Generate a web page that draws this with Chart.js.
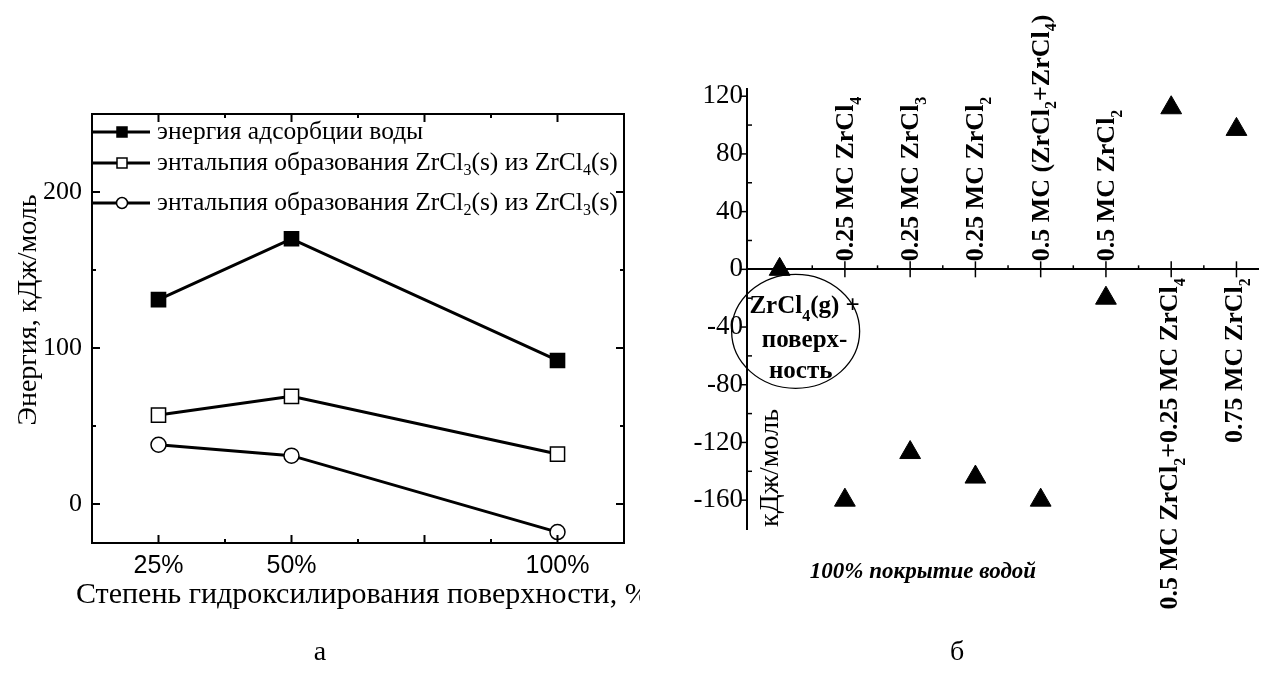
<!DOCTYPE html>
<html>
<head>
<meta charset="utf-8">
<script src="https://cdn.jsdelivr.net/npm/chart.js@4.4.0/dist/chart.umd.min.js"></script>
<style>
  html, body { margin: 0; padding: 0; background: #fff; width: 1271px; height: 677px; overflow: hidden; }
  canvas { position: absolute; top: 0; }
  #leftChart { left: 0; }
  #rightChart { left: 640px; }
</style>
</head>
<body>
<canvas id="leftChart" width="640" height="677"></canvas>
<canvas id="rightChart" width="631" height="677"></canvas>
<script>
// ---- panel а: energies vs hydroxylation degree ----
const coverage = [25, 50, 100];
const coverageTicks = [25, 50, 75, 100];
const coverageLabelled = [25, 50, 100];
const adsorptionEnergy = [131, 170, 92];
const enthalpyZrCl3 = [57, 69, 32];
const enthalpyZrCl2 = [38, 31, -18];
const seriesNames = [
    'энергия адсорбции воды',
    'энтальпия образования ZrCl_3(s) из ZrCl_4(s)',
    'энтальпия образования ZrCl_2(s) из ZrCl_3(s)'
];

// ---- panel б: reaction energies at 100% water coverage ----
const stateIdx = [0, 1, 2, 3, 4, 5, 6, 7];
const stateLabels = [
    '',
    '0.25 МС ZrCl_4',
    '0.25 МС ZrCl_3',
    '0.25 МС ZrCl_2',
    '0.5 МС (ZrCl_2+ZrCl_4)',
    '0.5 МС ZrCl_2',
    '0.5 МС ZrCl_2+0.25 МС ZrCl_4',
    '0.75 МС ZrCl_2'
];
const stateEnergy = [0, -160, -127, -144, -160, -20, 112, 97];
const startLabel = ['ZrCl_4(g) +', 'поверх-', 'ность'];

const SERIF = '"Liberation Serif", "Times New Roman", serif';

function splitSub(str) {
    const out = [];
    const re = /_(\d)/g;
    let last = 0, m;
    while ((m = re.exec(str))) {
        if (m.index > last) out.push([str.slice(last, m.index), false]);
        out.push([m[1], true]);
        last = re.lastIndex;
    }
    if (last < str.length) out.push([str.slice(last), false]);
    return out;
}

function drawRich(ctx, str, x, y, size, style, align) {
    const segs = splitSub(str);
    const main = `${style} ${size}px ${SERIF}`;
    const sub = `${style} ${Math.round(size * 0.62)}px ${SERIF}`;
    let w = 0;
    segs.forEach(([t, s]) => { ctx.font = s ? sub : main; w += ctx.measureText(t).width; });
    let cx = align === 'center' ? x - w / 2 : align === 'right' ? x - w : x;
    ctx.textAlign = 'left';
    segs.forEach(([t, s]) => {
        ctx.font = s ? sub : main;
        ctx.fillText(t, cx, s ? y + size * 0.3 : y);
        cx += ctx.measureText(t).width;
    });
}

function line(ctx, x1, y1, x2, y2) {
    ctx.beginPath(); ctx.moveTo(x1, y1); ctx.lineTo(x2, y2); ctx.stroke();
}

function vText(ctx, text, x, y, font, align) {
    ctx.save();
    ctx.translate(x, y);
    ctx.rotate(-Math.PI / 2);
    ctx.font = font;
    ctx.textAlign = align;
    ctx.fillText(text, 0, 0);
    ctx.restore();
}

const leftDecor = {
    id: 'leftDecor',
    afterDraw(chart) {
        const ctx = chart.ctx, a = chart.chartArea;
        const xs = chart.scales.x, ys = chart.scales.y;
        ctx.save();
        ctx.strokeStyle = '#000';
        ctx.fillStyle = '#000';
        ctx.lineWidth = 2;
        ctx.strokeRect(a.left, a.top, a.right - a.left, a.bottom - a.top);

        // inward ticks on all four sides
        xs.ticks.forEach(t => {
            const px = xs.getPixelForValue(t.value);
            line(ctx, px, a.bottom, px, a.bottom - 8);
            line(ctx, px, a.top, px, a.top + 8);
            const mx = xs.getPixelForValue(t.value + 12.5);
            if (mx < a.right - 2) {
                line(ctx, mx, a.bottom, mx, a.bottom - 4);
                line(ctx, mx, a.top, mx, a.top + 4);
            }
        });
        ys.ticks.forEach(t => {
            const py = ys.getPixelForValue(t.value);
            line(ctx, a.left, py, a.left + 8, py);
            line(ctx, a.right, py, a.right - 8, py);
            const my = ys.getPixelForValue(t.value + 50);
            if (my > a.top + 2) {
                line(ctx, a.left, my, a.left + 4, my);
                line(ctx, a.right, my, a.right - 4, my);
            }
        });

        // legend
        const rows = [132, 163, 203];
        chart.data.datasets.forEach((ds, i) => {
            const y = rows[i];
            ctx.lineWidth = 3;
            line(ctx, a.left, y, a.left + 58, y);
            ctx.lineWidth = 1.5;
            ctx.fillStyle = ds.pointBackgroundColor;
            ctx.beginPath();
            if (ds.pointStyle === 'circle') ctx.arc(a.left + 30, y, 5.5, 0, Math.PI * 2);
            else ctx.rect(a.left + 25, y - 5, 10, 10);
            ctx.fill(); ctx.stroke();
            ctx.fillStyle = '#000';
            ctx.textBaseline = 'middle';
            drawRich(ctx, seriesNames[i], a.left + 65, y, 25.5, 'normal', 'left');
        });

        // axis titles and panel letter
        ctx.textBaseline = 'alphabetic';
        vText(ctx, 'Энергия, кДж/моль', 36, 310, `28px ${SERIF}`, 'center');

        ctx.font = `30px ${SERIF}`;
        ctx.textAlign = 'left';
        ctx.fillText('Степень гидроксилирования поверхности, %', 76, 603);
        ctx.textAlign = 'center';
        ctx.font = `28px ${SERIF}`;
        ctx.fillText('а', 320, 660);
        ctx.restore();
    }
};

const rightDecor = {
    id: 'rightDecor',
    afterDraw(chart) {
        const ctx = chart.ctx, a = chart.chartArea;
        const xs = chart.scales.x, ys = chart.scales.y;
        const y0 = ys.getPixelForValue(0);
        ctx.save();
        ctx.strokeStyle = '#000';
        ctx.fillStyle = '#000';
        ctx.lineWidth = 1.5;

        // x ticks crossing the zero line
        stateIdx.forEach(i => {
            const px = xs.getPixelForValue(i);
            if (i > 0) line(ctx, px, y0 - 8, px, y0 + 8);
            const mx = xs.getPixelForValue(i + 0.5);
            if (mx < a.right) line(ctx, mx, y0 - 4, mx, y0);
        });
        // y ticks
        ys.ticks.forEach(t => {
            const py = ys.getPixelForValue(t.value);
            line(ctx, a.left - 7, py, a.left, py);
            const my = ys.getPixelForValue(t.value + 20);
            if (my > a.top) line(ctx, a.left, my, a.left + 5, my);
        });

        // state labels, on the opposite side of the zero line from the point
        ctx.textBaseline = 'alphabetic';
        stateIdx.forEach(i => {
            if (!stateLabels[i]) return;
            const px = xs.getPixelForValue(i);
            ctx.save();
            if (stateEnergy[i] < 0) {
                ctx.translate(px + 8, y0 - 8);
                ctx.rotate(-Math.PI / 2);
                drawRich(ctx, stateLabels[i], 0, 0, 26, 'bold', 'left');
            } else {
                ctx.translate(px + 6, y0 + 9);
                ctx.rotate(-Math.PI / 2);
                drawRich(ctx, stateLabels[i], 0, 0, 26, 'bold', 'right');
            }
            ctx.restore();
        });

        // starting state: ZrCl4(g) + surface, circled
        const sx = xs.getPixelForValue(0);
        ctx.lineWidth = 1.3;
        ctx.beginPath();
        ctx.ellipse(sx + 16, y0 + 62, 64, 57, 0, 0, Math.PI * 2);
        ctx.stroke();
        drawRich(ctx, startLabel[0], sx + 25, y0 + 44, 25, 'bold', 'center');
        drawRich(ctx, startLabel[1], sx + 25, y0 + 78, 25, 'bold', 'center');
        drawRich(ctx, startLabel[2], sx + 21, y0 + 109, 25, 'bold', 'center');

        // y title (only its unit part is visible in the original)
        vText(ctx, 'кДж/моль', a.left + 31, a.bottom - 2, `28px ${SERIF}`, 'left');

        ctx.textAlign = 'center';
        ctx.font = `italic bold 23px ${SERIF}`;
        ctx.fillText('100% покрытие водой', 283, 578);
        ctx.font = `28px ${SERIF}`;
        ctx.fillText('б', 317, 660);
        ctx.restore();
    }
};

const ptsOf = vals => coverage.map((x, i) => ({ x, y: vals[i] }));
const lineSeries = (vals, style, fill, r) => ({
    data: ptsOf(vals),
    showLine: true,
    borderColor: '#000',
    borderWidth: 3,
    pointStyle: style,
    pointRadius: r,
    pointBackgroundColor: fill,
    pointBorderColor: '#000',
    pointBorderWidth: 1.5,
    tension: 0
});

new Chart(document.getElementById('leftChart'), {
    type: 'scatter',
    data: {
        datasets: [
            lineSeries(adsorptionEnergy, 'rect', '#000', 10),
            lineSeries(enthalpyZrCl3, 'rect', '#fff', 10),
            lineSeries(enthalpyZrCl2, 'circle', '#fff', 7.5)
        ]
    },
    options: {
        responsive: false, animation: false, devicePixelRatio: 1,
        layout: { padding: { top: 114, right: 16, left: 0, bottom: 0 } },
        plugins: { legend: { display: false }, tooltip: { enabled: false } },
        clip: false,
        scales: {
            x: {
                type: 'linear', min: 12.5, max: 112.5,
                grid: { display: false, tickLength: 0 }, border: { display: false },
                ticks: {
                    padding: 8, color: '#000', autoSkip: false, maxRotation: 0,
                    font: { family: '"Liberation Sans", Arial, sans-serif', size: 25 },
                    callback: v => coverageLabelled.includes(v) ? v + '%' : ''
                },
                afterBuildTicks: s => { s.ticks = coverageTicks.map(v => ({ value: v })); },
                afterFit: s => { s.height = 134; }
            },
            y: {
                min: -25, max: 250,
                grid: { display: false, tickLength: 0 }, border: { display: false },
                ticks: {
                    stepSize: 100, includeBounds: false, padding: 10, color: '#000',
                    font: { family: SERIF, size: 26 }
                },
                afterFit: s => { s.width = 92; }
            }
        }
    },
    plugins: [leftDecor]
});

new Chart(document.getElementById('rightChart'), {
    type: 'scatter',
    data: {
        datasets: [{
            data: stateIdx.map((x, i) => ({ x, y: stateEnergy[i] })),
            pointStyle: 'triangle',
            pointRadius: 12,
            pointBackgroundColor: '#000',
            pointBorderColor: '#000',
            pointBorderWidth: 1
        }]
    },
    options: {
        responsive: false, animation: false, devicePixelRatio: 1,
        layout: { padding: { top: 89, right: 0, left: 0, bottom: 148 } },
        plugins: { legend: { display: false }, tooltip: { enabled: false } },
        clip: false,
        scales: {
            x: {
                type: 'linear', min: -0.5, max: 7.33, position: { y: 0 },
                grid: { display: false },
                border: { display: true, color: '#000', width: 2 },
                ticks: { display: false, stepSize: 1 }
            },
            y: {
                min: -180, max: 125,
                grid: { display: false, tickLength: 0 },
                border: { display: true, color: '#000', width: 2 },
                ticks: {
                    stepSize: 40, includeBounds: false, padding: 4, color: '#000',
                    font: { family: SERIF, size: 27 }
                },
                afterFit: s => { s.width = 107; }
            }
        }
    },
    plugins: [rightDecor]
});
</script>
</body>
</html>
